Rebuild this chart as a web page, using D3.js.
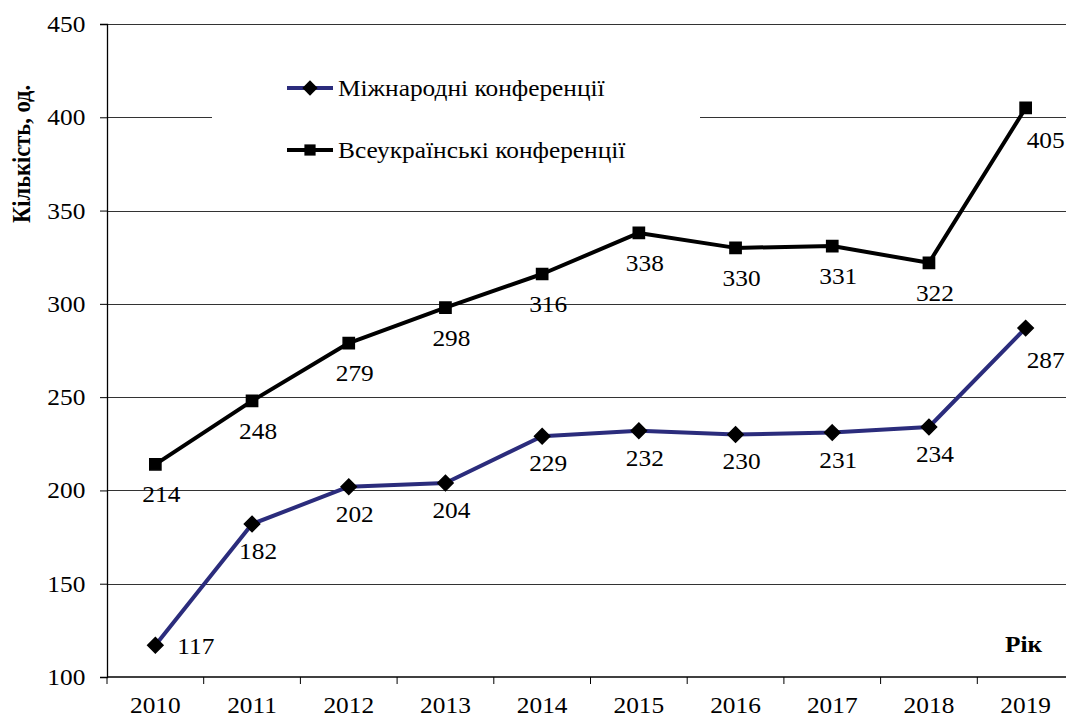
<!DOCTYPE html>
<html>
<head>
<meta charset="utf-8">
<script src="https://cdn.jsdelivr.net/npm/d3@7"></script>
</head>
<body style="margin:0;background:#fff">
<script>
// data
const years = ['2010','2011','2012','2013','2014','2015','2016','2017','2018','2019'];
const intl = [117, 182, 202, 204, 229, 232, 230, 231, 234, 287];
const national = [214, 248, 279, 298, 316, 338, 330, 331, 322, 405];
const yTicks = [100, 150, 200, 250, 300, 350, 400, 450];
const seriesNames = ['Міжнародні конференції', 'Всеукраїнські конференції'];

const width = 1066, height = 716;
const plotLeft = 107, plotRight = 1074, plotTop = 24, plotBottom = 677;
const fontSize = '23.5px', stretch = 'scale(1.08,1)';   // the source picture is a little wider than tall

let svg = d3.select('body').append('svg').attr('width', width).attr('height', height);

let xScale = d3.scaleBand(years, [plotLeft, plotRight]).padding(0),
    yScale = d3.scaleLinear([100, 450], [plotBottom, plotTop]);
let cx = d => xScale(d) + xScale.bandwidth()/2;

// gridlines
svg.append('g').selectAll('line')
    .data(yTicks.slice(1))
    .join('line')
    .attr('x1', plotLeft).attr('x2', width)
    .attr('y1', d=>Math.round(yScale(d))+0.5)
    .attr('y2', d=>Math.round(yScale(d))+0.5)
    .style('stroke', '#333')
    .style('stroke-width', '1px');

// legend box hides part of the 400 grid line
svg.append('rect')
    .attr('x', 212).attr('y', 60).attr('width', 488).attr('height', 115)
    .style('fill', '#fff');

// axes
let yAxis = svg.append('g').attr('transform', `translate(${plotLeft},0)`)
    .call(d3.axisLeft(yScale).tickValues(yTicks).tickSize(7).tickPadding(13));
let xAxis = svg.append('g').attr('transform', `translate(0,${plotBottom})`)
    .call(d3.axisBottom(xScale).tickSize(0).tickPadding(19));
[yAxis, xAxis].forEach(a => {
    a.select('.domain').style('stroke', '#000').style('stroke-width', '1.3px');
    a.selectAll('text').style('font-size', fontSize).style('fill', '#000').attr('transform', stretch);
    a.selectAll('line').style('stroke', '#000');
});
xAxis.select('.domain').attr('d', `M${plotLeft},0H${width}`);
// category boundary ticks
svg.append('g').selectAll('line')
    .data(years)
    .join('line')
    .attr('x1', d=>xScale(d)).attr('x2', d=>xScale(d))
    .attr('y1', plotBottom).attr('y2', plotBottom+7)
    .style('stroke', '#000').style('stroke-width', '1px');

// axis titles
svg.append('text')
    .attr('transform', 'translate(30,154) rotate(-90) scale(1,1.1)')
    .attr('text-anchor', 'middle')
    .style('font-size', '22.5px').style('font-weight', 'bold')
    .text('Кількість, од.');
svg.append('text')
    .attr('transform', `translate(1005,652) ${stretch}`)
    .style('font-size', fontSize).style('font-weight', 'bold')
    .text('Рік');

const series = [
    {name: seriesNames[0], values: intl, color: '#2b2c7c', symbol: d3.symbolDiamond2, size: 150, below: 35},
    {name: seriesNames[1], values: national, color: '#000', symbol: d3.symbolSquare2, size: 160, below: 38}
];

let lineGen = d3.line()
    .x((d,i)=>cx(years[i]))
    .y(d=>yScale(d));

series.forEach((s, si) => {
    svg.append('path')
        .datum(s.values)
        .attr('d', lineGen)
        .style('fill', 'none')
        .style('stroke', s.color)
        .style('stroke-width', '4px')
        .style('stroke-linejoin', 'round');
    svg.append('g').selectAll('path')
        .data(s.values)
        .join('path')
        .attr('transform', (d,i)=>`translate(${cx(years[i])},${yScale(d)})`)
        .attr('d', d3.symbol(s.symbol, s.size)())
        .style('fill', '#000')
        .style('stroke', '#000')
        .style('stroke-width', '1.5px');

    // value labels: mostly below the point, first and last pushed to the right
    let last = years.length - 1;
    svg.append('g').selectAll('text')
        .data(s.values)
        .join('text')
        .attr('transform', (d,i)=>{
            let x = cx(years[i]), y = yScale(d);
            if (si===0 && i===0) return `translate(${x+22},${y+9}) ${stretch}`;
            if (i===last) return `translate(${x+1},${y+40}) ${stretch}`;
            return `translate(${x+6},${y+s.below}) ${stretch}`;
        })
        .attr('text-anchor', (d,i)=> (si===0 && i===0) || i===last ? 'start' : 'middle')
        .style('font-size', fontSize)
        .style('fill', '#000')
        .text(d=>d);
});

// legend
let legend = svg.append('g');
series.forEach((s, i) => {
    let y = 88 + i*62;
    legend.append('line')
        .attr('x1', 287).attr('x2', 333).attr('y1', y).attr('y2', y)
        .style('stroke', s.color).style('stroke-width', '4px');
    legend.append('path')
        .attr('transform', `translate(310,${y})`)
        .attr('d', d3.symbol(s.symbol, s.size)())
        .style('fill', '#000');
    legend.append('text')
        .attr('transform', `translate(338,${y+8}) ${stretch}`)
        .style('font-size', fontSize)
        .text(s.name);
});

// all text in a Times-like serif
svg.selectAll('text').style('font-family', '"Liberation Serif"');
</script>
</body>
</html>
